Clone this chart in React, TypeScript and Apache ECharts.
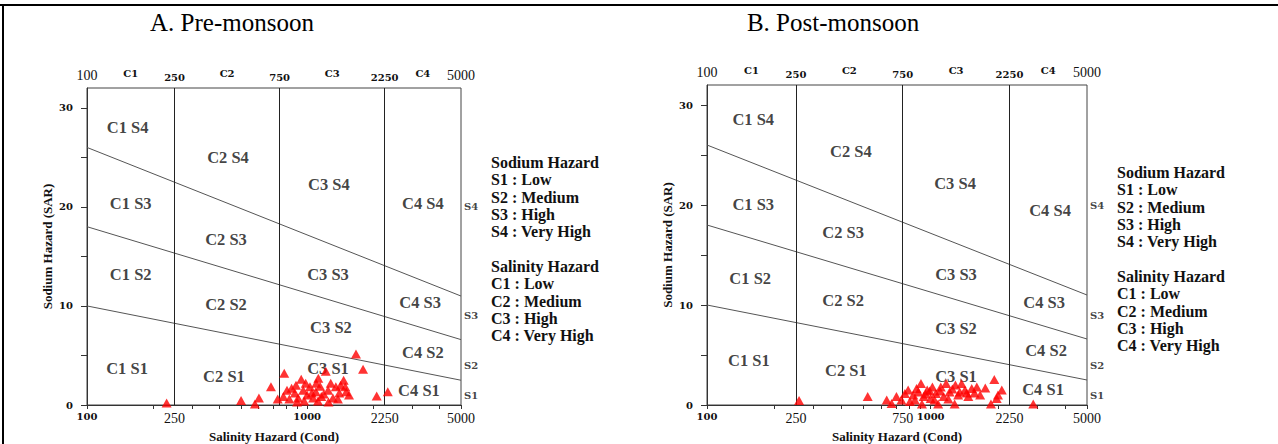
import React, { useEffect, useRef } from "react";
import * as echarts from "echarts";

// ---------------- data ----------------
const panelTitles = ["A. Pre-monsoon", "B. Post-monsoon"];
const salinityBounds = [250, 750, 2250];
const salinityClasses = ["C1", "C2", "C3", "C4"];
const condMin = 100;
const condMax = 5000;
const sarMax = 32;
// SAR of each sodium-class boundary at Cond = 100 and at Cond = 5000
const sodiumBoundaryAt100 = [10, 18, 26];
const sodiumBoundaryAt5000 = [2.5, 6.6, 11];
const sodiumClasses = ["S1", "S2", "S3", "S4"];
const sodiumClassSAR = [1, 4, 9, 20];

const bottomTickValues = [100, 200, 300, 400, 500, 600, 700, 800, 900, 1000, 2000, 3000, 4000, 5000];
const bottomLabelsPre = [100, 250, 1000, 2250, 5000];
const bottomLabelsPost = [100, 250, 750, 1000, 2250, 5000];
const yTickValues = [0, 5, 10, 15, 20, 25, 30];
const yLabelValues = [0, 10, 20, 30];

// [Cond, SAR]
const preMonsoon: number[][] = [
  [230, 0.2], [501, 0.45], [579, 0.1], [604, 0.7], [685, 1.85], [735, 0.6], [787, 3.2], [780, 0.85],
  [810, 1.5], [850, 1.7], [880, 1.2], [910, 0.7], [940, 2.6], [960, 1.5], [1000, 1.0], [1030, 1.85],
  [1065, 0.7], [1095, 1.35], [1124, 2.7], [1145, 1.9], [1160, 0.85], [1215, 3.4], [1245, 1.5],
  [1310, 0.7], [1350, 1.85], [1400, 1.2], [1465, 2.5], [1505, 1.35], [1667, 5.15], [1795, 3.6],
  [2070, 0.9], [2325, 1.35], [830, 0.6], [890, 2.0], [985, 2.2], [1050, 1.2], [1100, 2.2],
  [1190, 1.1], [1280, 2.2], [1380, 0.6], [1420, 2.0], [1120, 0.4], [970, 0.4], [1550, 1.0],
  [900, 0.3], [1250, 0.3], [1490, 1.85],
];
const postMonsoon: number[][] = [
  [258, 0.45], [523, 0.85], [636, 0.5], [669, 0.15], [703, 0.85], [740, 0.5], [767, 1.15], [793, 1.5],
  [808, 0.35], [836, 1.0], [865, 1.65], [905, 2.15], [914, 0.1], [930, 0.85], [965, 1.5], [1000, 0.65],
  [1018, 1.8], [1055, 1.15], [1080, 0.1], [1110, 1.8], [1143, 0.85], [1173, 2.15], [1215, 1.3],
  [1280, 0.1], [1290, 2.0], [1327, 1.0], [1375, 2.15], [1423, 1.5], [1473, 0.85], [1526, 1.65],
  [1608, 1.8], [1664, 1.0], [1755, 1.7], [1860, 0.1], [1925, 2.55], [1973, 0.65], [2080, 1.5],
  [2875, 0.1], [850, 0.5], [880, 1.3], [950, 1.1], [990, 1.4], [1040, 0.5], [1100, 1.4], [1200, 0.6],
  [1250, 1.6], [1350, 1.3], [1450, 1.2], [1570, 1.2], [2000, 1.0],
];

// zone annotations: [text, Cond, SAR]
const zoneLabelsPre: [string, number, number][] = [
  ["C1 S4", 153, 28.0], ["C2 S4", 437, 25.0], ["C3 S4", 1256, 22.3], ["C4 S4", 3357, 20.3],
  ["C1 S3", 158, 20.3], ["C2 S3", 428, 16.7], ["C3 S3", 1244, 13.2], ["C4 S3", 3260, 10.3],
  ["C1 S2", 158, 13.2], ["C2 S2", 428, 10.1], ["C3 S2", 1283, 7.8], ["C4 S2", 3357, 5.25],
  ["C1 S1", 152, 3.7], ["C2 S1", 419, 2.9], ["C3 S1", 1244, 3.7], ["C4 S1", 3221, 1.5],
];
const zoneLabelsPost: [string, number, number][] = [
  ["C1 S4", 161, 28.6], ["C2 S4", 440, 25.4], ["C3 S4", 1285, 22.2], ["C4 S4", 3417, 19.5],
  ["C1 S3", 161, 20.1], ["C2 S3", 406, 17.3], ["C3 S3", 1298, 13.1], ["C4 S3", 3214, 10.3],
  ["C1 S2", 156, 12.7], ["C2 S2", 406, 10.5], ["C3 S2", 1298, 7.7], ["C4 S2", 3280, 5.5],
  ["C1 S1", 154, 4.5], ["C2 S1", 418, 3.5], ["C3 S1", 1298, 2.9], ["C4 S1", 3180, 1.6],
];

const legendLines = [
  "Sodium Hazard", "S1 : Low", "S2 : Medium", "S3 : High", "S4 : Very High", "",
  "Salinity Hazard", "C1 : Low", "C2 : Medium", "C3 : High", "C4 : Very High",
];

// ---------------- styles / layout ----------------
const SERIF = "'Liberation Serif', 'Times New Roman', serif";
const BLOCK = "'DejaVu Serif', serif";
const INK = "#111";

const panels = [
  { left: 87, top: 88, width: 374, height: 317, legendX: 491, legendY: 154, titleX: 232, data: preMonsoon, zones: zoneLabelsPre, bottom: bottomLabelsPre },
  { left: 707, top: 85, width: 380, height: 320, legendX: 1117, legendY: 164, titleX: 833, data: postMonsoon, zones: zoneLabelsPost, bottom: bottomLabelsPost },
];

function buildOption() {
  const topValues: number[] = [];
  const topTexts: string[] = [];
  const edges = [condMin, ...salinityBounds, condMax];
  edges.forEach((e, i) => {
    topValues.push(e);
    topTexts.push(String(e));
    if (i < edges.length - 1) {
      topValues.push(Math.sqrt(e * edges[i + 1]));
      topTexts.push(salinityClasses[i]);
    }
  });

  const grids: any[] = [];
  const xAxes: any[] = [];
  const yAxes: any[] = [];
  const series: any[] = [];
  const graphics: any[] = [];

  const tinyBold = { fontFamily: BLOCK, fontWeight: "bold", fontSize: 10, color: INK };
  const plainNum = { fontFamily: SERIF, fontWeight: "normal", fontSize: 14, color: INK };

  panels.forEach((p, i) => {
    grids.push({
      left: p.left, top: p.top, width: p.width, height: p.height,
      containLabel: false, outerBoundsMode: "none",
      show: true, borderColor: "#444", borderWidth: 1, backgroundColor: "transparent",
    });
    // bottom axis
    xAxes.push({
      type: "log", logBase: 10, min: condMin, max: condMax, gridIndex: i, position: "bottom",
      axisLine: { show: true, lineStyle: { color: "#333", width: 1 } },
      axisTick: { show: true, customValues: bottomTickValues, length: 4, inside: false, lineStyle: { color: "#333" } },
      minorTick: { show: false },
      splitLine: { show: false },
      axisLabel: {
        customValues: p.bottom, margin: 6,
        formatter: (v: number) => {
          const r = Math.round(v);
          return r === 100 || r === 1000 ? `{b|${r}}` : `{n|${r}}`;
        },
        rich: { b: tinyBold, n: plainNum },
      },
      name: "Salinity Hazard (Cond)", nameLocation: "middle", nameGap: 22,
      nameTextStyle: { fontFamily: SERIF, fontWeight: "bold", fontSize: 13, color: INK },
    });
    // top axis
    xAxes.push({
      type: "log", logBase: 10, min: condMin, max: condMax, gridIndex: i, position: "top",
      axisLine: { show: false }, axisTick: { show: false }, splitLine: { show: false },
      axisLabel: {
        customValues: topValues, margin: 6,
        formatter: (v: number) => {
          const k = topValues.findIndex((t) => Math.abs(t - v) < t * 1e-6);
          const txt = topTexts[k] ?? "";
          if (txt === String(condMin) || txt === String(condMax)) return `{n|${txt}}`;
          if (txt.startsWith("C")) return `{c|${txt}}`;
          return `{b|${txt}}`;
        },
        rich: { b: tinyBold, c: { ...tinyBold, padding: [0, 0, 4, 0] }, n: plainNum },
      },
    });
    yAxes.push({
      type: "value", min: 0, max: sarMax, gridIndex: i,
      axisLine: { show: true, lineStyle: { color: "#333", width: 1 } },
      axisTick: { show: true, customValues: yTickValues, length: 6, lineStyle: { color: "#333" } },
      splitLine: { show: false },
      axisLabel: { customValues: yLabelValues, margin: 14, ...tinyBold },
      name: "Sodium Hazard (SAR)", nameLocation: "middle", nameGap: 33, nameRotate: 90,
      nameTextStyle: { fontFamily: SERIF, fontWeight: "bold", fontSize: 13, color: INK },
    });

    const xi = i * 2;
    // salinity class boundaries
    series.push({
      type: "line", xAxisIndex: xi, yAxisIndex: i, data: [], silent: true,
      markLine: {
        silent: true, symbol: "none", label: { show: false },
        lineStyle: { color: "#222", width: 1, type: "solid" },
        data: salinityBounds.map((b) => ({ xAxis: b })),
      },
    });
    // sodium class boundaries
    sodiumBoundaryAt100.forEach((a, k) => {
      series.push({
        type: "line", xAxisIndex: xi, yAxisIndex: i, silent: true, showSymbol: false, symbol: "none",
        lineStyle: { color: "#555", width: 1 },
        data: [[condMin, a], [condMax, sodiumBoundaryAt5000[k]]],
      });
    });
    // zone labels
    series.push({
      type: "scatter", xAxisIndex: xi, yAxisIndex: i, symbolSize: 0, silent: true, z: 3,
      label: {
        show: true, position: "inside", formatter: (d: any) => d.name,
        fontFamily: SERIF, fontWeight: "bold", fontSize: 16.5, color: INK,
      },
      data: p.zones.map(([t, x, y]) => ({ name: t, value: [x, y] })),
    });
    // sodium class tags on right edge
    series.push({
      type: "scatter", xAxisIndex: xi, yAxisIndex: i, symbolSize: 0, silent: true,
      label: { show: true, position: "right", distance: 3, formatter: (d: any) => d.name, ...tinyBold },
      data: sodiumClasses.map((s, k) => ({ name: s, value: [condMax, sodiumClassSAR[k]] })),
    });
    // samples
    series.push({
      type: "scatter", xAxisIndex: xi, yAxisIndex: i, symbol: "triangle", symbolSize: [10, 9], z: 5,
      itemStyle: { color: "#ff0000" }, clip: false,
      data: p.data,
    });

    graphics.push({
      type: "text", x: p.titleX, y: 22,
      style: { text: panelTitles[i], fontFamily: SERIF, fontSize: 25, fill: "#000", align: "center", verticalAlign: "middle" },
    });
    graphics.push({
      type: "text", x: p.legendX, y: p.legendY,
      style: {
        text: legendLines.join("\n"), fontFamily: SERIF, fontWeight: "bold", fontSize: 16,
        lineHeight: 17.3, fill: INK, align: "left", verticalAlign: "top",
      },
    });
  });

  graphics.push({ type: "line", shape: { x1: 0, y1: 5, x2: 1278, y2: 5 }, style: { stroke: "#000", lineWidth: 2 } });
  graphics.push({ type: "line", shape: { x1: 3, y1: 4, x2: 3, y2: 444 }, style: { stroke: "#000", lineWidth: 2 } });

  return {
    animation: false,
    backgroundColor: "#ffffff",
    grid: grids,
    xAxis: xAxes,
    yAxis: yAxes,
    series,
    graphic: graphics,
  };
}

export default function App() {
  const ref = useRef<HTMLDivElement>(null);
  useEffect(() => {
    const chart = echarts.init(ref.current!, null, { renderer: "svg" });
    chart.setOption(buildOption() as any);
    return () => chart.dispose();
  }, []);
  return (
    <div
      ref={ref}
      style={{ position: "fixed", left: 0, top: 0, width: 1278, height: 444, background: "#fff" }}
    />
  );
}
